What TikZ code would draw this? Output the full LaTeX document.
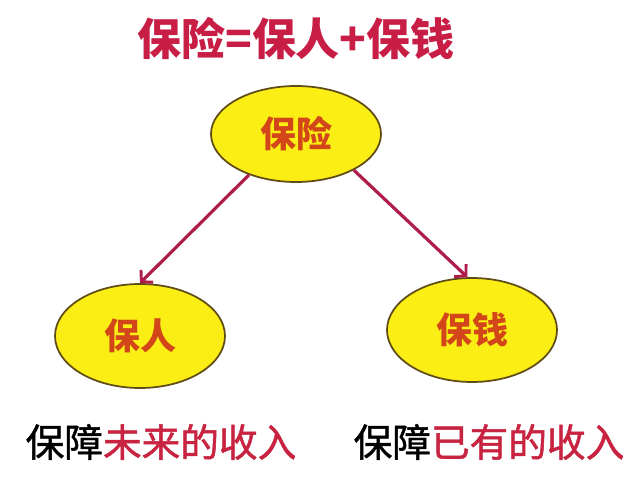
\documentclass[tikz,border=0pt]{standalone}
\usepackage{fontspec}
\newfontfamily\cjk{Noto Sans CJK SC}
\newfontfamily\cjkmid[FakeBold=1.2]{Noto Sans CJK SC}
\usetikzlibrary{shapes.geometric,arrows.meta}
\definecolor{titlered}{RGB}{200,30,70}
\definecolor{arrowred}{RGB}{175,30,75}
\definecolor{ellfill}{RGB}{250,238,20}
\definecolor{elldraw}{RGB}{95,75,20}
\definecolor{elltext}{RGB}{210,70,25}
\definecolor{textred}{RGB}{200,35,65}
\begin{document}
\begin{tikzpicture}[x=0.75pt,y=-0.75pt,
  bubble/.style={ellipse,draw=elldraw,line width=1.3pt,fill=ellfill,
    minimum width=127.5pt,minimum height=76pt,inner sep=0pt,
    text=elltext,font=\cjk\bfseries\fontsize{27}{30}\selectfont},
  arr/.style={draw=arrowred,line width=2.4pt,
    -{Straight Barb[length=6pt,width=13pt,line width=2.2pt]}},
  caption/.style={font=\cjkmid\fontsize{29}{32}\selectfont,inner sep=0pt}]
\useasboundingbox (0,0) rectangle (640,492);
\fill[white] (0,0) rectangle (640,492);
\node[font=\cjk\bfseries\fontsize{33}{36}\selectfont,text=titlered,inner sep=0pt]
  (title) at (296,38) {保险=保人+保钱};
\node[bubble,minimum height=72pt] (top) at (296,134) {保险};
\node[bubble,minimum height=78pt] (left) at (140,336) {保人};
\node[bubble,minimum height=78pt] (right) at (472,330) {保钱};
\draw[arr] (top.221) -- (left.north);
\draw[arr] (top.328) -- (right.95);
\node[caption] (capl) at (161,442) {保障\textcolor{textred}{未来的收入}};
\node[caption] (capr) at (489,442) {保障\textcolor{textred}{已有的收入}};
\end{tikzpicture}
\end{document}
